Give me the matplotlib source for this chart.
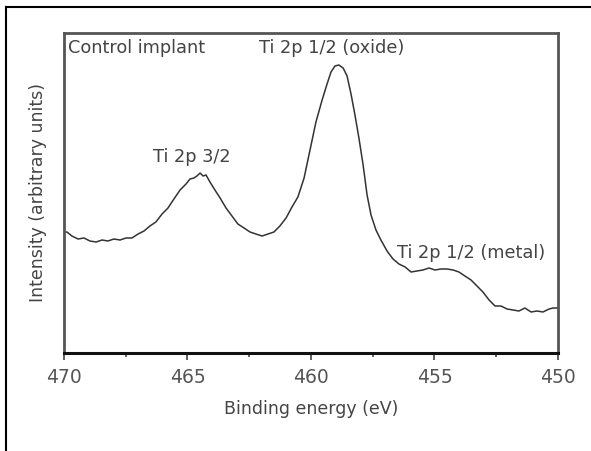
import matplotlib
matplotlib.use("Agg")
import matplotlib.pyplot as plt
from matplotlib.lines import Line2D
from matplotlib.ticker import MultipleLocator

# Binding energy (eV) and intensity (arbitrary units)
energy = [470.00, 469.88, 469.68, 469.43, 469.19, 468.95, 468.70, 468.46, 468.22, 467.98,
          467.73, 467.49, 467.25, 467.00, 466.76, 466.52, 466.28, 466.03, 465.79, 465.55,
          465.30, 465.06, 464.90, 464.74, 464.62, 464.49, 464.37, 464.25, 464.09, 463.89,
          463.68, 463.44, 463.20, 462.96, 462.71, 462.47, 462.23, 461.98, 461.74, 461.50,
          461.26, 461.01, 460.77, 460.53, 460.28, 460.04, 459.80, 459.55, 459.35, 459.19,
          459.03, 458.87, 458.70, 458.54, 458.38, 458.22, 458.06, 457.89, 457.73, 457.57,
          457.37, 457.17, 456.92, 456.68, 456.44, 456.19, 455.95, 455.71, 455.47, 455.22,
          454.98, 454.74, 454.49, 454.25, 454.01, 453.77, 453.52, 453.28, 453.04, 452.79,
          452.55, 452.31, 452.06, 451.82, 451.58, 451.34, 451.09, 450.85, 450.61, 450.36,
          450.20, 450.00]
intensity = [121, 121, 117, 114, 115, 112, 111, 113, 112, 114,
             113, 115, 115, 119, 122, 127, 131, 139, 145, 154,
             163, 169, 174, 175, 177, 180, 177, 178, 171, 163,
             155, 145, 137, 129, 125, 121, 119, 117, 119, 121,
             127, 135, 146, 156, 175, 203, 231, 253, 269, 281,
             287, 288, 285, 277, 259, 238, 215, 188, 158, 138,
             123, 113, 102, 94, 89, 86, 81, 82, 83, 85,
             83, 84, 84, 83, 81, 77, 73, 67, 61, 53,
             47, 47, 44, 43, 42, 45, 41, 42, 41, 44,
             45, 45]

x_ticks = [470, 465, 460, 455, 450]
x_tick_labels = ["470", "465", "460", "455", "450"]

annotations = [
    ("Control implant", 469.84, 305, "left"),
    ("Ti 2p 1/2 (oxide)", 459.15, 305, "center"),
    ("Ti 2p 3/2", 464.82, 196, "center"),
    ("Ti 2p 1/2 (metal)", 453.52, 100, "center"),
]

plt.rcParams['font.family'] = ['DejaVu Sans']
fig = plt.figure(figsize=(5.91, 4.51), dpi=100)
ax = fig.add_axes([64 / 591, 1 - 353 / 451, (558 - 64) / 591, (353 - 33) / 451])

ax.plot(energy, intensity, color="#333333", lw=1.1)
ax.set_xlim(470, 450)
ax.set_ylim(0, 320)

ax.set_xticks(x_ticks)
ax.set_xticklabels(x_tick_labels, fontsize=13.5, color="#555555")
ax.xaxis.set_minor_locator(MultipleLocator(2.5))
ax.tick_params(axis="x", which="major", direction="out", length=5, width=1.2, color="#444444", pad=6)
ax.tick_params(axis="x", which="minor", direction="out", length=3, width=1.2, color="#444444")
ax.set_yticks([])

for s in ["left", "top", "right"]:
    ax.spines[s].set_color("#555555")
    ax.spines[s].set_linewidth(2.0)
ax.spines["bottom"].set_color("#111111")
ax.spines["bottom"].set_linewidth(2.2)

ax.set_xlabel("Binding energy (eV)", fontsize=12.5, color="#444444", labelpad=9)
ax.set_ylabel("Intensity (arbitrary units)", fontsize=12.5, color="#444444", labelpad=12)

for txt, xx, yy, ha in annotations:
    ax.text(xx, yy, txt, fontsize=12.8, color="#444444", ha=ha, va="center")

# outer frame (top and left edges visible)
fig.add_artist(Line2D([6 / 591, 6 / 591], [0, 1 - 7 / 451], transform=fig.transFigure, color="black", lw=1.5))
fig.add_artist(Line2D([6 / 591, 1], [1 - 7 / 451, 1 - 7 / 451], transform=fig.transFigure, color="black", lw=1.5))

fig.savefig("out.png", dpi=100)
